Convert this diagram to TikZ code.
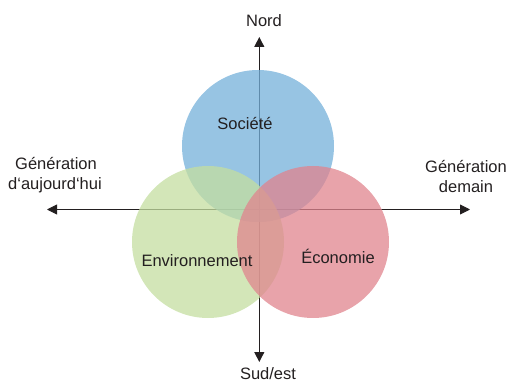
\documentclass[tikz,border=0pt]{standalone}
\usepackage{fontspec}
\setmainfont{Liberation Sans}
\usetikzlibrary{arrows.meta}
\definecolor{txt}{RGB}{35,31,32}
\definecolor{socblue}{RGB}{116,176,218}
\definecolor{envgreen}{RGB}{196,222,160}
\definecolor{ecored}{RGB}{224,132,142}
\tikzset{
  axis/.style={draw=txt, line width=0.9pt, {Triangle[length=10pt,width=10pt]}-{Triangle[length=10pt,width=10pt]}},
  axisone/.style={draw=txt, line width=0.9pt, -{Triangle[length=10pt,width=10pt]}},
  sphere/.style={circle, minimum size=152pt, inner sep=0pt, fill opacity=0.75, draw=none},
  lbl/.style={text=txt, font=\fontsize{16.5}{20}\selectfont, anchor=base, inner sep=0pt},
}
\begin{document}
\begin{tikzpicture}[x=1pt,y=-1pt]
\useasboundingbox (0,0) rectangle (509,382);
% axes
\coordinate (W) at (47,209.5);
\coordinate (E) at (470,209.5);
\coordinate (O) at (259.3,209.5);
\coordinate (N) at (259.3,37);
\coordinate (S) at (259.3,362);
\draw[axis] (W) -- (E);
\draw[axisone] (O) -- (N);
\draw[axisone] (O) -- (S);
% circles
\node[sphere, fill=socblue] (soc) at (258,146) {};
\node[sphere, fill=envgreen] (env) at (208,242) {};
\node[sphere, fill=ecored] (eco) at (313,242) {};
% labels
\node[lbl] (tsoc) at (245,129.5) {Société};
\node[lbl] (tenv) at (197,267) {Environnement};
\node[lbl] (teco) at (338,264) {Économie};
\node[lbl] (tnord) at (264,27) {Nord};
\node[lbl] (tsud) at (268,379.5) {Sud/est};
\node[lbl] (tl1) at (56,170) {Génération};
\node[lbl] (tl2) at (55,190) {d‘aujourd‘hui};
\node[lbl] (tr1) at (466,173) {Génération};
\node[lbl] (tr2) at (466,193) {demain};
\end{tikzpicture}
\end{document}
